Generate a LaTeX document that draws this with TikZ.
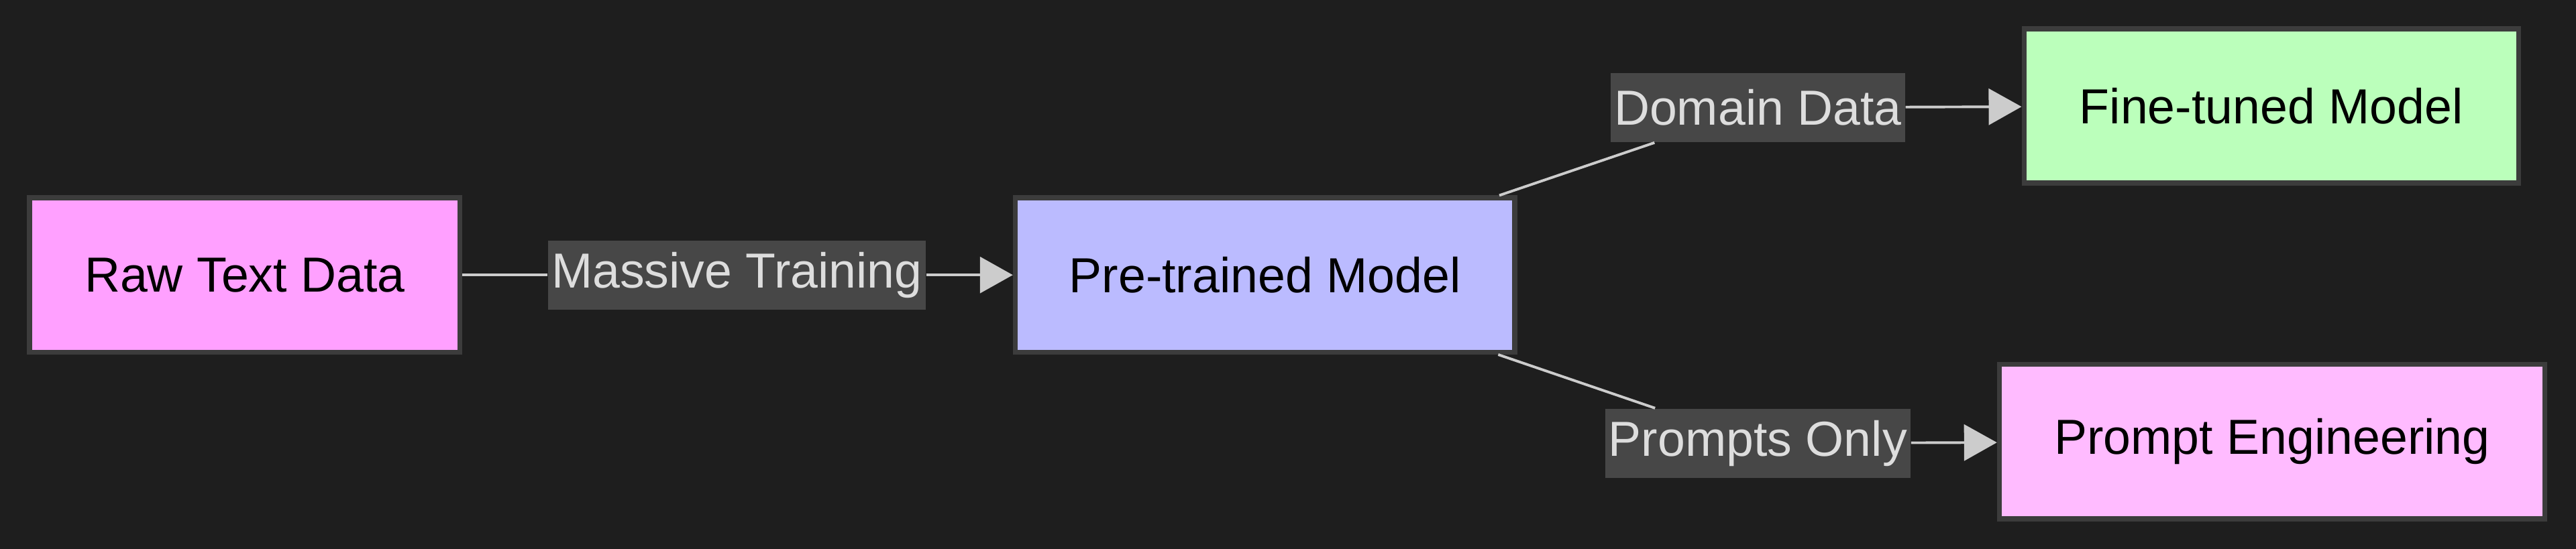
\documentclass[tikz,border=0pt]{standalone}
\usepackage{fontspec}
\setmainfont{Liberation Sans}
\usetikzlibrary{arrows.meta}
\definecolor{bg}{HTML}{1E1E1E}
\definecolor{edge}{HTML}{CCCCCC}
\definecolor{lab}{HTML}{474747}
\definecolor{labtext}{HTML}{DDDDDD}
\definecolor{bord}{HTML}{3C3C3C}
\begin{document}
\begin{tikzpicture}[x=0.5pt,y=-0.5pt,
  box/.style={draw=bord,line width=1.5pt,minimum height=47pt,inner sep=0pt,font=\fontsize{15pt}{18pt}\selectfont,text=black},
  elab/.style={fill=lab,text=labtext,inner sep=1pt,minimum height=21pt,font=\fontsize{15pt}{18pt}\selectfont},
  conn/.style={draw=edge,line width=0.8pt},
  arr/.style={conn,-{Triangle[length=10pt,width=11pt]}}]
\fill[bg] (0,0) rectangle (1568,334.4);
\useasboundingbox (0,0) rectangle (1568,334.4);
\node[box,fill={rgb,255:red,255;green,160;blue,255},minimum width=131pt] (raw) at (149,167.5) {Raw Text Data};
\node[box,fill={rgb,255:red,187;green,187;blue,255},minimum width=152pt] (pre) at (770,167.5) {Pre-trained Model};
\node[box,fill={rgb,255:red,187;green,255;blue,187},minimum width=150.5pt] (fine) at (1382.5,64.5) {Fine-tuned Model};
\node[box,fill={rgb,255:red,255;green,187;blue,255},minimum width=166pt] (prompt) at (1383,269) {Prompt Engineering};
\node[elab] (mlab) at (448.5,167.5) {Massive Training};
\node[elab] (dlab) at (1070,65.5) {Domain Data};
\node[elab] (plab) at (1070,270) {Prompts Only};
\draw[conn] (raw) -- (mlab);
\draw[arr] (mlab) -- (pre);
\draw[conn] (pre) -- (dlab);
\draw[arr] (dlab) -- (fine);
\draw[conn] (pre) -- (plab);
\draw[arr] (plab) -- (prompt);
\end{tikzpicture}
\end{document}
